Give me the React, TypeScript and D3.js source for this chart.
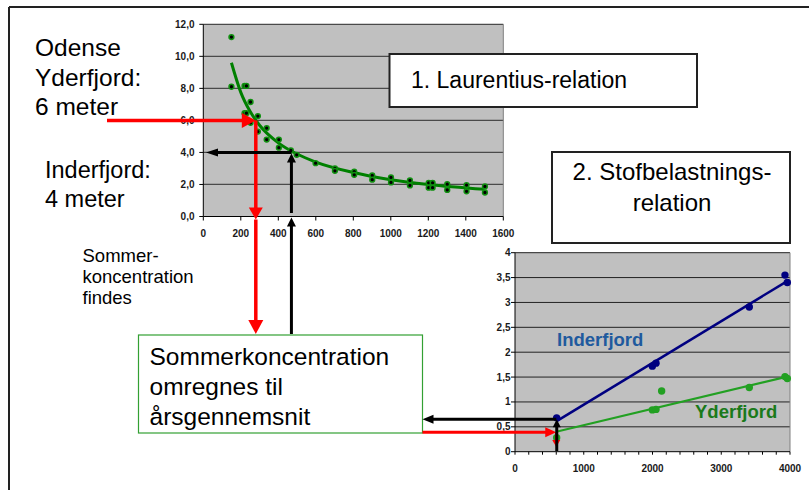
import React from 'react';
import * as d3 from 'd3';

const W = 809;
const H = 490;
const FONT = '"Liberation Sans", Arial, Helvetica, sans-serif';

// ---- Chart 1: Laurentius-relation ----
const lauX = [150,150,220,230,252,220,230,252,291,291,338,338,403,403,467,498,599,702,702,805,805,901,901,1001,1001,1102,1102,1202,1202,1223,1223,1301,1301,1404,1404,1502,1502];
const lauY = [11.2,8.1,8.15,8.15,7.15,6.45,6.45,5.85,6.27,5.3,5.52,4.8,4.8,4.3,4.12,3.85,3.33,3.0,2.85,2.8,2.6,2.56,2.3,2.44,2.13,2.25,1.94,2.1,1.8,2.1,1.8,2.02,1.66,1.96,1.57,1.88,1.5];
const trendX = [150,200,250,300,400,500,600,800,1000,1200,1500];
const trendY = [9.6,7.75,6.55,5.7,4.6,3.9,3.4,2.75,2.3,2.0,1.7];
const c1YTicks = [0,2,4,6,8,10,12];
const c1YLabels = ['0,0','2,0','4,0','6,0','8,0','10,0','12,0'];
const c1XTicks = [0,200,400,600,800,1000,1200,1400,1600];
const c1XLabels = ['0','200','400','600','800','1000','1200','1400','1600'];

// ---- Chart 2: Stofbelastnings-relation ----
const inderX = [606,1998,2051,3408,3927,3961];
const inderY = [0.68,1.72,1.78,2.91,3.55,3.40];
const inderLineX = [600,3960];
const inderLineY = [0.61,3.43];
const yderX = [606,1998,2051,2133,3408,3927,3961];
const yderY = [0.28,0.84,0.85,1.22,1.29,1.51,1.47];
const yderLineX = [600,3960];
const yderLineY = [0.40,1.51];
const c2YTicks = [0,0.5,1,1.5,2,2.5,3,3.5,4];
const c2YLabels = ['0','0,5','1','1,5','2','2,5','3','3,5','4'];
const c2XTicks = [0,1000,2000,3000,4000];
const c2XLabels = ['0','1000','2000','3000','4000'];
const c2MinorTicks = d3.range(0, 4001, 200);

// Values used by the arrows
const summerDepth = 6;      // Yderfjord depth (m)
const summerConc = 280;     // read where 6 m crosses the curve
const innerDepth = 4;
const innerConc = 470;
const loadX = 600;
const yderAnnual = 0.39;
const inderAnnual = 0.65;

const x1 = d3.scaleLinear().domain([0, 1600]).range([203.3, 503.3]);
const y1 = d3.scaleLinear().domain([0, 12]).range([216.5, 24.3]);
const x2 = d3.scaleLinear().domain([0, 4000]).range([515, 790]);
const y2 = d3.scaleLinear().domain([0, 4]).range([451.7, 252.7]);

function T({ x, y, size, children, weight = 'normal', fill = '#000', anchor = 'start' }: any) {
  return (
    <text x={x} y={y} fontSize={size} fontWeight={weight} fill={fill} textAnchor={anchor} fontFamily={FONT}>
      {children}
    </text>
  );
}

function Arrow({ x1: ax, y1: ay, x2: bx, y2: by, color, width, headLen, headW }: any) {
  const dx = bx - ax, dy = by - ay;
  const len = Math.sqrt(dx * dx + dy * dy);
  const ux = dx / len, uy = dy / len;
  const px = -uy, py = ux;
  const baseX = bx - ux * headLen, baseY = by - uy * headLen;
  const pts = [
    [bx, by],
    [baseX + px * headW / 2, baseY + py * headW / 2],
    [baseX - px * headW / 2, baseY - py * headW / 2],
  ];
  return (
    <g>
      <line x1={ax} y1={ay} x2={baseX + ux * 1} y2={baseY + uy * 1} stroke={color} strokeWidth={width} />
      <polygon points={pts.map(p => p.join(',')).join(' ')} fill={color} />
    </g>
  );
}

export default function App() {
  const trendLine = d3.line<number>().x((d, i) => x1(trendX[i])).y((d, i) => y1(trendY[i])).curve(d3.curveMonotoneX);
  const c1L = x1(0), c1R = x1(1600), c1T = y1(12), c1B = y1(0);
  const c2L = x2(0), c2R = x2(4000), c2T = y2(4), c2B = y2(0);

  const red = '#ff0000';
  const rx = x1(summerConc);
  const bx = x1(innerConc);
  const boxTop = 334;

  return (
    <svg width={W} height={H} style={{ position: 'absolute', left: 0, top: 0, background: '#fff' }}>
      <rect x={0} y={0} width={W} height={H} fill="#fff" />
      {/* outer frame */}
      <line x1={9} y1={7} x2={W} y2={7} stroke="#222" strokeWidth={2} />
      <line x1={9} y1={7} x2={9} y2={H} stroke="#222" strokeWidth={2} />

      {/* ---- Chart 1 ---- */}
      <rect x={c1L} y={c1T} width={c1R - c1L} height={c1B - c1T} fill="#c0c0c0" />
      {c1YTicks.slice(1).map(t => (
        <line key={t} x1={c1L} x2={c1R} y1={y1(t)} y2={y1(t)} stroke="#4a4a4a" strokeWidth={1.2} />
      ))}
      <line x1={c1R} x2={c1R} y1={c1T} y2={c1B} stroke="#808080" strokeWidth={1} />
      <line x1={c1L} x2={c1L} y1={c1T} y2={c1B} stroke="#000" strokeWidth={1} />
      <line x1={c1L} x2={c1R} y1={c1B} y2={c1B} stroke="#000" strokeWidth={1} />
      {c1YTicks.map((t, i) => (
        <g key={t}>
          <line x1={c1L - 4} x2={c1L} y1={y1(t)} y2={y1(t)} stroke="#000" />
          <T x={194.5} y={y1(t) + 3.5} size={10} weight="bold" anchor="end" fill="#1a1a1a">{c1YLabels[i]}</T>
        </g>
      ))}
      {c1XTicks.map((t, i) => (
        <g key={t}>
          <line x1={x1(t)} x2={x1(t)} y1={c1B} y2={c1B + 4} stroke="#000" />
          <T x={x1(t)} y={237} size={10} weight="bold" anchor="middle" fill="#1a1a1a">{c1XLabels[i]}</T>
        </g>
      ))}
      <path d={trendLine(trendX) || ''} fill="none" stroke="#008000" strokeWidth={3} />
      {lauX.map((v, i) => (
        <circle key={i} cx={x1(v)} cy={y1(lauY[i])} r={2.4} fill="#000" stroke="#109010" strokeWidth={1.5} />
      ))}

      {/* ---- Chart 2 ---- */}
      <rect x={c2L} y={c2T} width={c2R - c2L} height={c2B - c2T} fill="#c0c0c0" />
      {c2YTicks.slice(1).map(t => (
        <line key={t} x1={c2L} x2={c2R} y1={y2(t)} y2={y2(t)} stroke="#222" strokeWidth={1} />
      ))}
      <line x1={c2R} x2={c2R} y1={c2T} y2={c2B} stroke="#808080" strokeWidth={1} />
      <line x1={c2L} x2={c2L} y1={c2T} y2={c2B} stroke="#000" strokeWidth={1} />
      <line x1={c2L} x2={c2R} y1={c2B} y2={c2B} stroke="#000" strokeWidth={1} />
      {c2YTicks.map((t, i) => (
        <g key={t}>
          <line x1={c2L - 4} x2={c2L} y1={y2(t)} y2={y2(t)} stroke="#000" />
          <T x={510.5} y={y2(t) + 3.5} size={10} weight="bold" anchor="end" fill="#1a1a1a">{c2YLabels[i]}</T>
        </g>
      ))}
      {c2MinorTicks.map(t => (
        <line key={t} x1={x2(t)} x2={x2(t)} y1={c2B} y2={c2B + 3} stroke="#000" />
      ))}
      {c2XTicks.map((t, i) => (
        <T key={t} x={x2(t)} y={472} size={10} weight="bold" anchor="middle" fill="#1a1a1a">{c2XLabels[i]}</T>
      ))}
      <line x1={x2(inderLineX[0])} y1={y2(inderLineY[0])} x2={x2(inderLineX[1])} y2={y2(inderLineY[1])} stroke="#000080" strokeWidth={2.5} />
      <line x1={x2(yderLineX[0])} y1={y2(yderLineY[0])} x2={x2(yderLineX[1])} y2={y2(yderLineY[1])} stroke="#22a022" strokeWidth={2.2} />
      {inderX.map((v, i) => (
        <circle key={'i' + i} cx={x2(v)} cy={y2(inderY[i])} r={3.7} fill="#000080" />
      ))}
      {yderX.map((v, i) => (
        <circle key={'y' + i} cx={x2(v)} cy={y2(yderY[i])} r={3.7} fill="#22a022" />
      ))}
      <T x={557} y={346} size={18.5} weight="bold" fill="#1f5a9e">Inderfjord</T>
      <T x={695} y={418} size={18.5} weight="bold" fill="#1a7a1a">Yderfjord</T>

      {/* ---- Text boxes ---- */}
      <rect x={389.5} y={54} width={307.5} height={53} fill="#fff" stroke="#222" strokeWidth={2} />
      <T x={411} y={87.5} size={23}>1. Laurentius-relation</T>
      <rect x={552} y={152} width={238} height={91} fill="#fff" stroke="#222" strokeWidth={2} />
      <T x={672} y={180} size={24} anchor="middle">2. Stofbelastnings-</T>
      <T x={672} y={211} size={24} anchor="middle">relation</T>

      <T x={35} y={56} size={24.5}>Odense</T>
      <T x={35} y={85.5} size={24.5}>Yderfjord:</T>
      <T x={35} y={115} size={24.5}>6 meter</T>
      <T x={45} y={178} size={23.5}>Inderfjord:</T>
      <T x={45} y={206.5} size={23.5}>4 meter</T>
      <T x={82.5} y={261.5} size={18.5}>Sommer-</T>
      <T x={82.5} y={282.5} size={18.5}>koncentration</T>
      <T x={82.5} y={303.5} size={18.5}>findes</T>

      <rect x={138.5} y={335} width={284} height={98} fill="#fff" stroke="#33a033" strokeWidth={1.2} />
      <T x={149.5} y={364.5} size={24.5}>Sommerkoncentration</T>
      <T x={149.5} y={394.5} size={24.5}>omregnes til</T>
      <T x={149.5} y={424.5} size={24.5}>årsgennemsnit</T>

      {/* ---- Arrows ---- */}
      <Arrow x1={107} y1={y1(summerDepth)} x2={rx} y2={y1(summerDepth)} color={red} width={3.5} headLen={14} headW={15} />
      <Arrow x1={rx} y1={y1(summerDepth)} x2={rx} y2={219.5} color={red} width={3.5} headLen={12} headW={14} />
      <Arrow x1={rx} y1={219.5} x2={rx} y2={boxTop} color={red} width={3.5} headLen={14} headW={15} />
      <Arrow x1={bx} y1={boxTop} x2={bx} y2={217.5} color="#000" width={3} headLen={9} headW={9} />
      <Arrow x1={bx} y1={213} x2={bx} y2={y1(innerDepth) + 1} color="#000" width={3} headLen={9} headW={9} />
      <Arrow x1={bx} y1={y1(innerDepth)} x2={206} y2={y1(innerDepth)} color="#000" width={3} headLen={12} headW={8} />

      <Arrow x1={422.5} y1={y2(yderAnnual)} x2={x2(loadX)} y2={y2(yderAnnual)} color={red} width={3} headLen={11} headW={10} />
      <Arrow x1={x2(loadX)} y1={y2(yderAnnual)} x2={x2(loadX)} y2={447} color={red} width={2.5} headLen={7} headW={8} />
      <Arrow x1={x2(loadX) + 0.5} y1={451} x2={x2(loadX) + 0.5} y2={y2(inderAnnual)} color="#000" width={3} headLen={8} headW={8} />
      <Arrow x1={x2(loadX)} y1={y2(inderAnnual)} x2={422.5} y2={y2(inderAnnual)} color="#000" width={3} headLen={11} headW={9} />
    </svg>
  );
}
